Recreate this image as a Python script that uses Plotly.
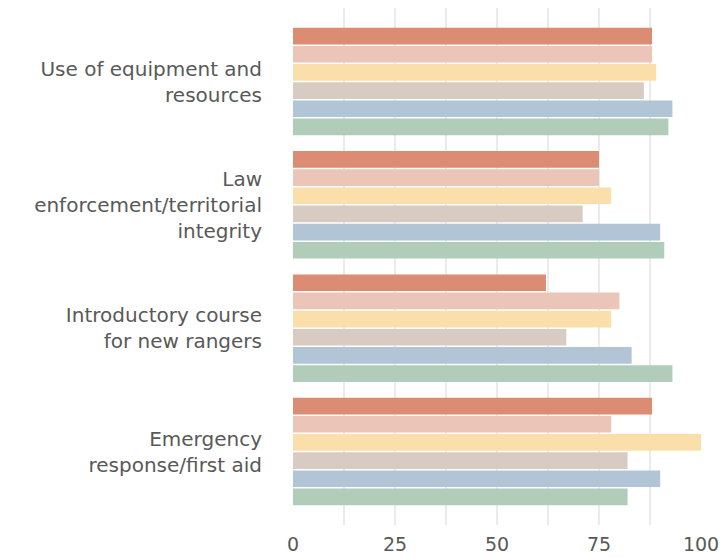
import plotly.graph_objects as go

categories = [
    "Use of equipment and<br>resources",
    "Law<br>enforcement/territorial<br>integrity",
    "Introductory course<br>for new rangers",
    "Emergency<br>response/first aid",
]
series_names = ["Series 1", "Series 2", "Series 3", "Series 4", "Series 5", "Series 6"]
series_values = [
    [88, 75, 62, 88],
    [88, 75, 80, 78],
    [89, 78, 78, 100],
    [86, 71, 67, 82],
    [93, 90, 83, 90],
    [92, 91, 93, 82],
]
colors = ["#DB8C73", "#ECC5B9", "#FADFAB", "#D8CCC2", "#B1C5D6", "#B1CCB9"]
x_ticks = [0, 25, 50, 75, 100]

fig = go.Figure()
for name, vals, col in zip(series_names, series_values, colors):
    fig.add_trace(go.Bar(
        y=categories, x=vals, name=name, orientation="h",
        marker=dict(color=col, line=dict(width=0)),
    ))

fig.update_layout(
    width=720, height=558,
    margin=dict(l=293, r=19, t=8, b=33),
    barmode="group", bargap=0.116, bargroupgap=0.08,
    showlegend=False,
    plot_bgcolor="white", paper_bgcolor="white",
    font=dict(family="DejaVu Sans", color="#595959", size=20),
)
fig.update_xaxes(
    range=[0, 100], tickvals=x_ticks, ticktext=[str(v) for v in x_ticks],
    showgrid=True, gridcolor="#EBEBEB", gridwidth=1.5,
    minor=dict(dtick=12.5, tick0=0, showgrid=True, gridcolor="#EBEBEB", gridwidth=1.5),
    zeroline=False, showline=False, ticks="", automargin=False,
    ticklabeloverflow="allow", ticklabelstandoff=6,
    tickfont=dict(size=19, color="#595959"),
)
fig.update_yaxes(
    type="category", categoryorder="array", categoryarray=categories,
    range=[3.596, -0.596], showgrid=False, zeroline=False, ticks="",
    automargin=False,
    ticklabelstandoff=30, tickfont=dict(size=20, color="#595959"),
)
fig.write_html(
    "out.html",
    config={"displayModeBar": False},
    post_script="document.body.style.margin='0';document.body.style.overflow='hidden';",
)
